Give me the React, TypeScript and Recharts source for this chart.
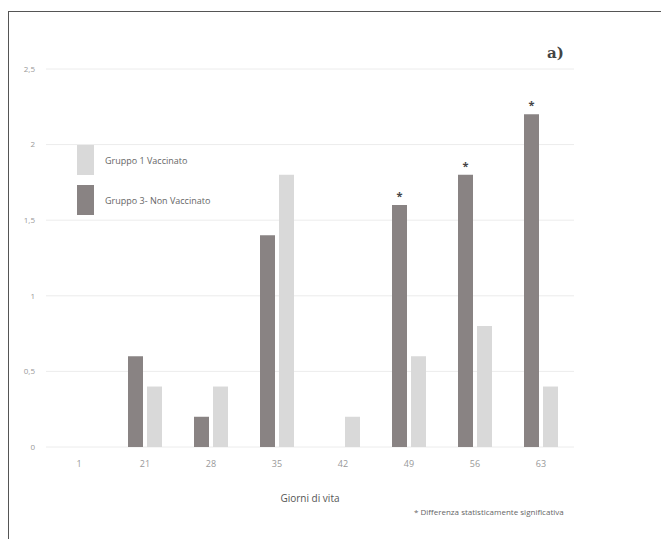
import React from "react";
import {
  BarChart,
  Bar,
  XAxis,
  YAxis,
  CartesianGrid,
  LabelList
} from "recharts";

const days = ["1", "21", "28", "35", "42", "49", "56", "63"];
const gruppo3 = [0, 0.6, 0.2, 1.4, 0, 1.6, 1.8, 2.2];
const gruppo1 = [0, 0.4, 0.4, 1.8, 0.2, 0.6, 0.8, 0.4];
const significant = [0, 0, 0, 0, 0, 1, 1, 1];
const yTicks = [0, 0.5, 1, 1.5, 2, 2.5];

const DARK = "#898383";
const LIGHT = "#d9d9d9";

const data = days.map((d, i) => ({
  day: d,
  g3: gruppo3[i],
  g1: gruppo1[i],
  sig: significant[i]
}));

const fontFamily = "'Open Sans', 'Liberation Sans', sans-serif";

// Legend shows vaccinated group first, like the original
const legendItems = [
  { label: "Gruppo 1 Vaccinato", color: LIGHT },
  { label: "Gruppo 3- Non Vaccinato", color: DARK }
];

const StarLabel = (props: any) => {
  const { x, y, width, value } = props;
  if (!value) return null;
  return (
    <text x={Number(x) + Number(width) / 2} y={Number(y) - 5} textAnchor="middle" fontSize={11} fontWeight="bold" fill="#444" fontFamily={fontFamily}>
      *
    </text>
  );
};

export default function App() {
  return (
    <div style={{ position: "fixed", left: 0, top: 0, width: 661, height: 539, background: "#fff" }}>
      <div
        style={{
          position: "absolute",
          left: 8,
          top: 11,
          right: 0,
          bottom: 0,
          borderTop: "1.5px solid #555",
          borderLeft: "1.5px solid #555"
        }}
      />
      <BarChart
        width={661}
        height={539}
        data={data}
        margin={{ top: 69, right: 87, left: 6, bottom: 32 }}
        barSize={15}
        barGap={4}
      >
        <CartesianGrid horizontal vertical={false} stroke="#ececec" />
        <XAxis
          dataKey="day"
          axisLine={false}
          tickLine={false}
          tickMargin={8}
          height={60}
          tick={{ fontSize: 9, fill: "#999", fontFamily }}
          label={{ value: "Giorni di vita", position: "insideBottom", offset: 5, fontSize: 10, fill: "#555", fontFamily }}
        />
        <YAxis
          domain={[0, 2.5]}
          ticks={yTicks}
          width={40}
          axisLine={false}
          tickLine={false}
          tickMargin={5}
          tickFormatter={(v: number) => String(v).replace(".", ",")}
          tick={{ fontSize: 8, fill: "#999", fontFamily }}
        />
        <Bar dataKey="g3" name="Gruppo 3- Non Vaccinato" fill={DARK} isAnimationActive={false}>
          <LabelList dataKey="sig" content={<StarLabel />} />
        </Bar>
        <Bar dataKey="g1" name="Gruppo 1 Vaccinato" fill={LIGHT} isAnimationActive={false} />
      </BarChart>
      <div style={{ position: "absolute", left: 77, top: 140, fontFamily }}>
        {legendItems.map((it) => (
          <div key={it.label} style={{ display: "flex", alignItems: "center", height: 40 }}>
            <div style={{ width: 17, height: 30, background: it.color }} />
            <span style={{ marginLeft: 11, fontSize: 9, color: "#666" }}>{it.label}</span>
          </div>
        ))}
      </div>
      <div
        style={{
          position: "absolute",
          left: 547,
          top: 44,
          fontFamily: "'DejaVu Serif', serif",
          fontSize: 15,
          fontWeight: "bold",
          color: "#444"
        }}
      >
        a)
      </div>
      <div
        style={{
          position: "absolute",
          left: 414,
          top: 506,
          fontFamily,
          fontSize: 8,
          color: "#666",
          whiteSpace: "nowrap"
        }}
      >
        * Differenza statisticamente significativa
      </div>
    </div>
  );
}
